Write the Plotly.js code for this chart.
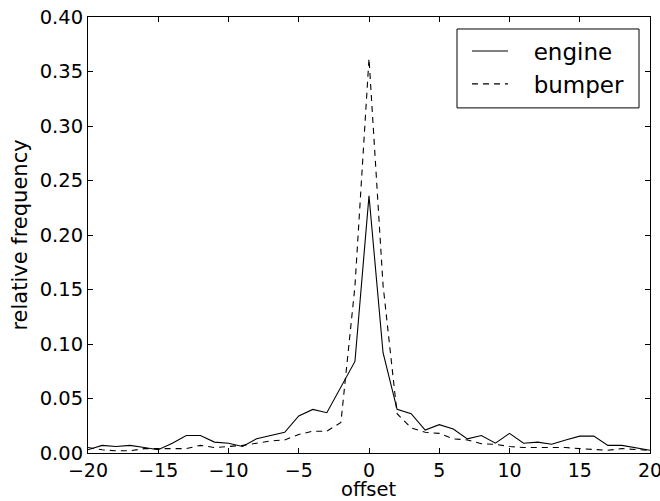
<!DOCTYPE html>
<html>
<head>
<meta charset="utf-8">
<script src="https://cdn.plot.ly/plotly-3.0.1.min.js"></script>
<style>html,body{margin:0;padding:0;background:#fff;}#chart{width:660px;height:501px;}</style>
</head>
<body>
<div id="chart"></div>
<script>
const offsets = [-20,-19,-18,-17,-16,-15,-14,-13,-12,-11,-10,-9,-8,-7,-6,-5,-4,-3,-2,-1,0,1,2,3,4,5,6,7,8,9,10,11,12,13,14,15,16,17,18,19,20];
const engine = [0.003,0.007,0.006,0.007,0.005,0.003,0.009,0.016,0.016,0.010,0.009,0.006,0.013,0.016,0.019,0.034,0.040,0.037,0.060,0.084,0.236,0.092,0.040,0.036,0.021,0.026,0.022,0.013,0.016,0.009,0.018,0.009,0.010,0.008,0.012,0.0155,0.0155,0.007,0.007,0.005,0.0025];
const bumper = [0.005,0.003,0.002,0.002,0.004,0.004,0.004,0.004,0.007,0.005,0.006,0.007,0.009,0.011,0.012,0.017,0.020,0.020,0.028,0.153,0.362,0.154,0.036,0.023,0.019,0.018,0.013,0.012,0.0085,0.008,0.006,0.005,0.005,0.005,0.005,0.004,0.0035,0.0025,0.004,0.003,0.0025];
const seriesNames = ["engine","bumper"];
const xTitle = "offset";
const yTitle = "relative frequency";
const xTicks = [-20,-15,-10,-5,0,5,10,15,20];
const yTicks = [0,0.05,0.10,0.15,0.20,0.25,0.30,0.35,0.40];

const font = "DejaVu Sans, sans-serif";
const pad = "\u2002\u2009\u2009";
const traces = [
  {x: offsets, y: engine, name: pad + seriesNames[0], legendgroup: "a", mode: "lines", type: "scatter",
   line: {color: "#000", width: 1.1}},
  {x: offsets, y: bumper, name: pad + seriesNames[1], legendgroup: "b", mode: "lines", type: "scatter",
   line: {color: "#000", width: 1.1, dash: "6px,5px"}}
];
const axisCommon = {
  showline: true, linecolor: "#000", linewidth: 1, mirror: "ticks",
  ticks: "inside", ticklen: 5, tickcolor: "#000", tickwidth: 1,
  showgrid: false, zeroline: false, ticklabeloverflow: "allow",
  tickfont: {family: font, size: 19.5, color: "#000"}
};
// plot area: x 88..650, y 17..453.5 px
const px = v => (v - 88) / 562;
const py = v => (453.5 - v) / 436.5;
const layout = {
  width: 660, height: 501,
  margin: {l: 88, r: 10, t: 17, b: 47.5, pad: 0},
  paper_bgcolor: "#fff", plot_bgcolor: "#fff",
  font: {family: font, color: "#000"},
  showlegend: true,
  legend: {x: px(467), y: py(29.5), xanchor: "left", yanchor: "top",
    bgcolor: "rgba(0,0,0,0)", borderwidth: 0, itemwidth: 36,
    traceorder: "grouped", tracegroupgap: 0,
    font: {family: font, size: 23, color: "#000"}},
  shapes: [{type: "rect", xref: "paper", yref: "paper", x0: px(457), x1: px(639), y0: py(108), y1: py(29),
    line: {color: "#000", width: 1}, fillcolor: "#fff", layer: "above"}],
  annotations: [{text: xTitle, xref: "paper", yref: "paper", x: 0.5, y: py(490), xanchor: "center", yanchor: "middle",
    showarrow: false, font: {family: font, size: 19.5, color: "#000"}}],
  xaxis: Object.assign({}, axisCommon, {
    range: [-20, 20], tickvals: xTicks, ticktext: xTicks.map(v => v < 0 ? "\u2212" + Math.abs(v) : String(v)),
    tickfont: {family: font, size: 19, color: "#000"}
  }),
  yaxis: Object.assign({}, axisCommon, {
    range: [0, 0.40], tickvals: yTicks, ticktext: yTicks.map(v => v.toFixed(2)),
    title: {text: yTitle, font: {family: font, size: 21, color: "#000"}, standoff: 6}
  })
};
Plotly.newPlot("chart", traces, layout, {displayModeBar: false, staticPlot: true});
</script>
</body>
</html>
